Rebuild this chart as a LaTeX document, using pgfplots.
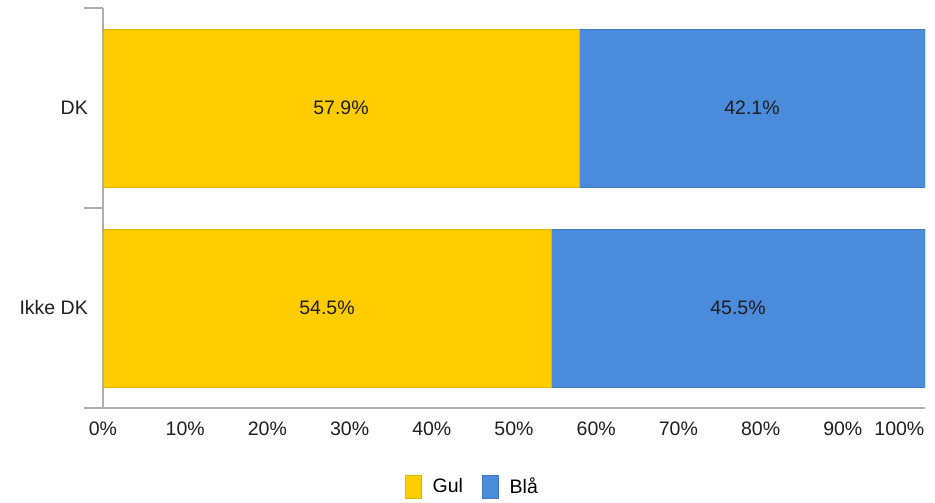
\documentclass[border=0pt]{standalone}
\usepackage{fontspec}
\setmainfont{Liberation Sans}
\usepackage{pgfplots}
\pgfplotsset{compat=1.18}
\definecolor{gul}{RGB}{255,204,0}
\definecolor{bla}{RGB}{74,139,220}
\definecolor{axgray}{RGB}{175,175,175}
\definecolor{txt}{RGB}{30,30,30}
\begin{document}
\fontsize{19.5}{23}\selectfont
\begin{tikzpicture}
\useasboundingbox (0,0) rectangle (935pt,-503pt);
\begin{axis}[
  at={(103pt,-408pt)}, anchor=south west,
  xbar stacked,
  width=822pt, height=400pt, scale only axis,
  xmin=0, xmax=100, ymin=-0.5, ymax=1.5,
  bar width=158pt,
  axis x line*=bottom, axis y line*=left,
  axis line style={-, draw=axgray, line width=1.3pt},
  /pgf/number format/assume math mode=true,
  ticklabel style={font=\fontsize{19.5}{23}\selectfont, text=txt},
  ytick={0,1}, yticklabels={Ikke DK, DK},
  ytick style={draw=none},
  yticklabel style={inner sep=0pt, xshift=-15pt},
  extra y ticks={-0.5,0.5,1.5}, extra y tick labels={},
  extra y tick style={ytick style={draw=axgray, line width=1.3pt}, major tick length=19pt, tick align=outside},
  xtick={0,10,...,90},
  xticklabel={\pgfmathprintnumber{\tick}\%},
  xtick style={draw=none},
  xticklabel style={yshift=-7pt},
  extra x ticks={100}, extra x tick labels={100\%},
  extra x tick style={xticklabel style={anchor=north east, inner xsep=0.5pt}},
  legend image code/.code={\fill[#1] (0pt,-11.5pt) rectangle (16pt,11.5pt);},
  legend style={at={(0.4495,-0.198)}, anchor=center, draw=none, fill=none,
    legend columns=-1, font=\fontsize{19.5}{23}\selectfont,
    /tikz/every odd column/.append style={column sep=9pt},
    /tikz/every even column/.append style={column sep=17pt}},
  visualization depends on=rawx\as\rawx,
  nodes near coords={\pgfmathprintnumber[fixed,fixed zerofill,precision=1]{\rawx}\%},
  every node near coord/.append style={anchor=center,
    font=\fontsize{19.5}{23}\selectfont, text=txt},
]
\addplot[fill=gul, draw=gul!88!black, line width=0.6pt] coordinates {(54.5,0) (57.9,1)};
\addplot[fill=bla, draw=bla!88!black, line width=0.6pt] coordinates {(45.5,0) (42.1,1)};
\legend{Gul, Blå}
\end{axis}
\end{tikzpicture}
\end{document}
